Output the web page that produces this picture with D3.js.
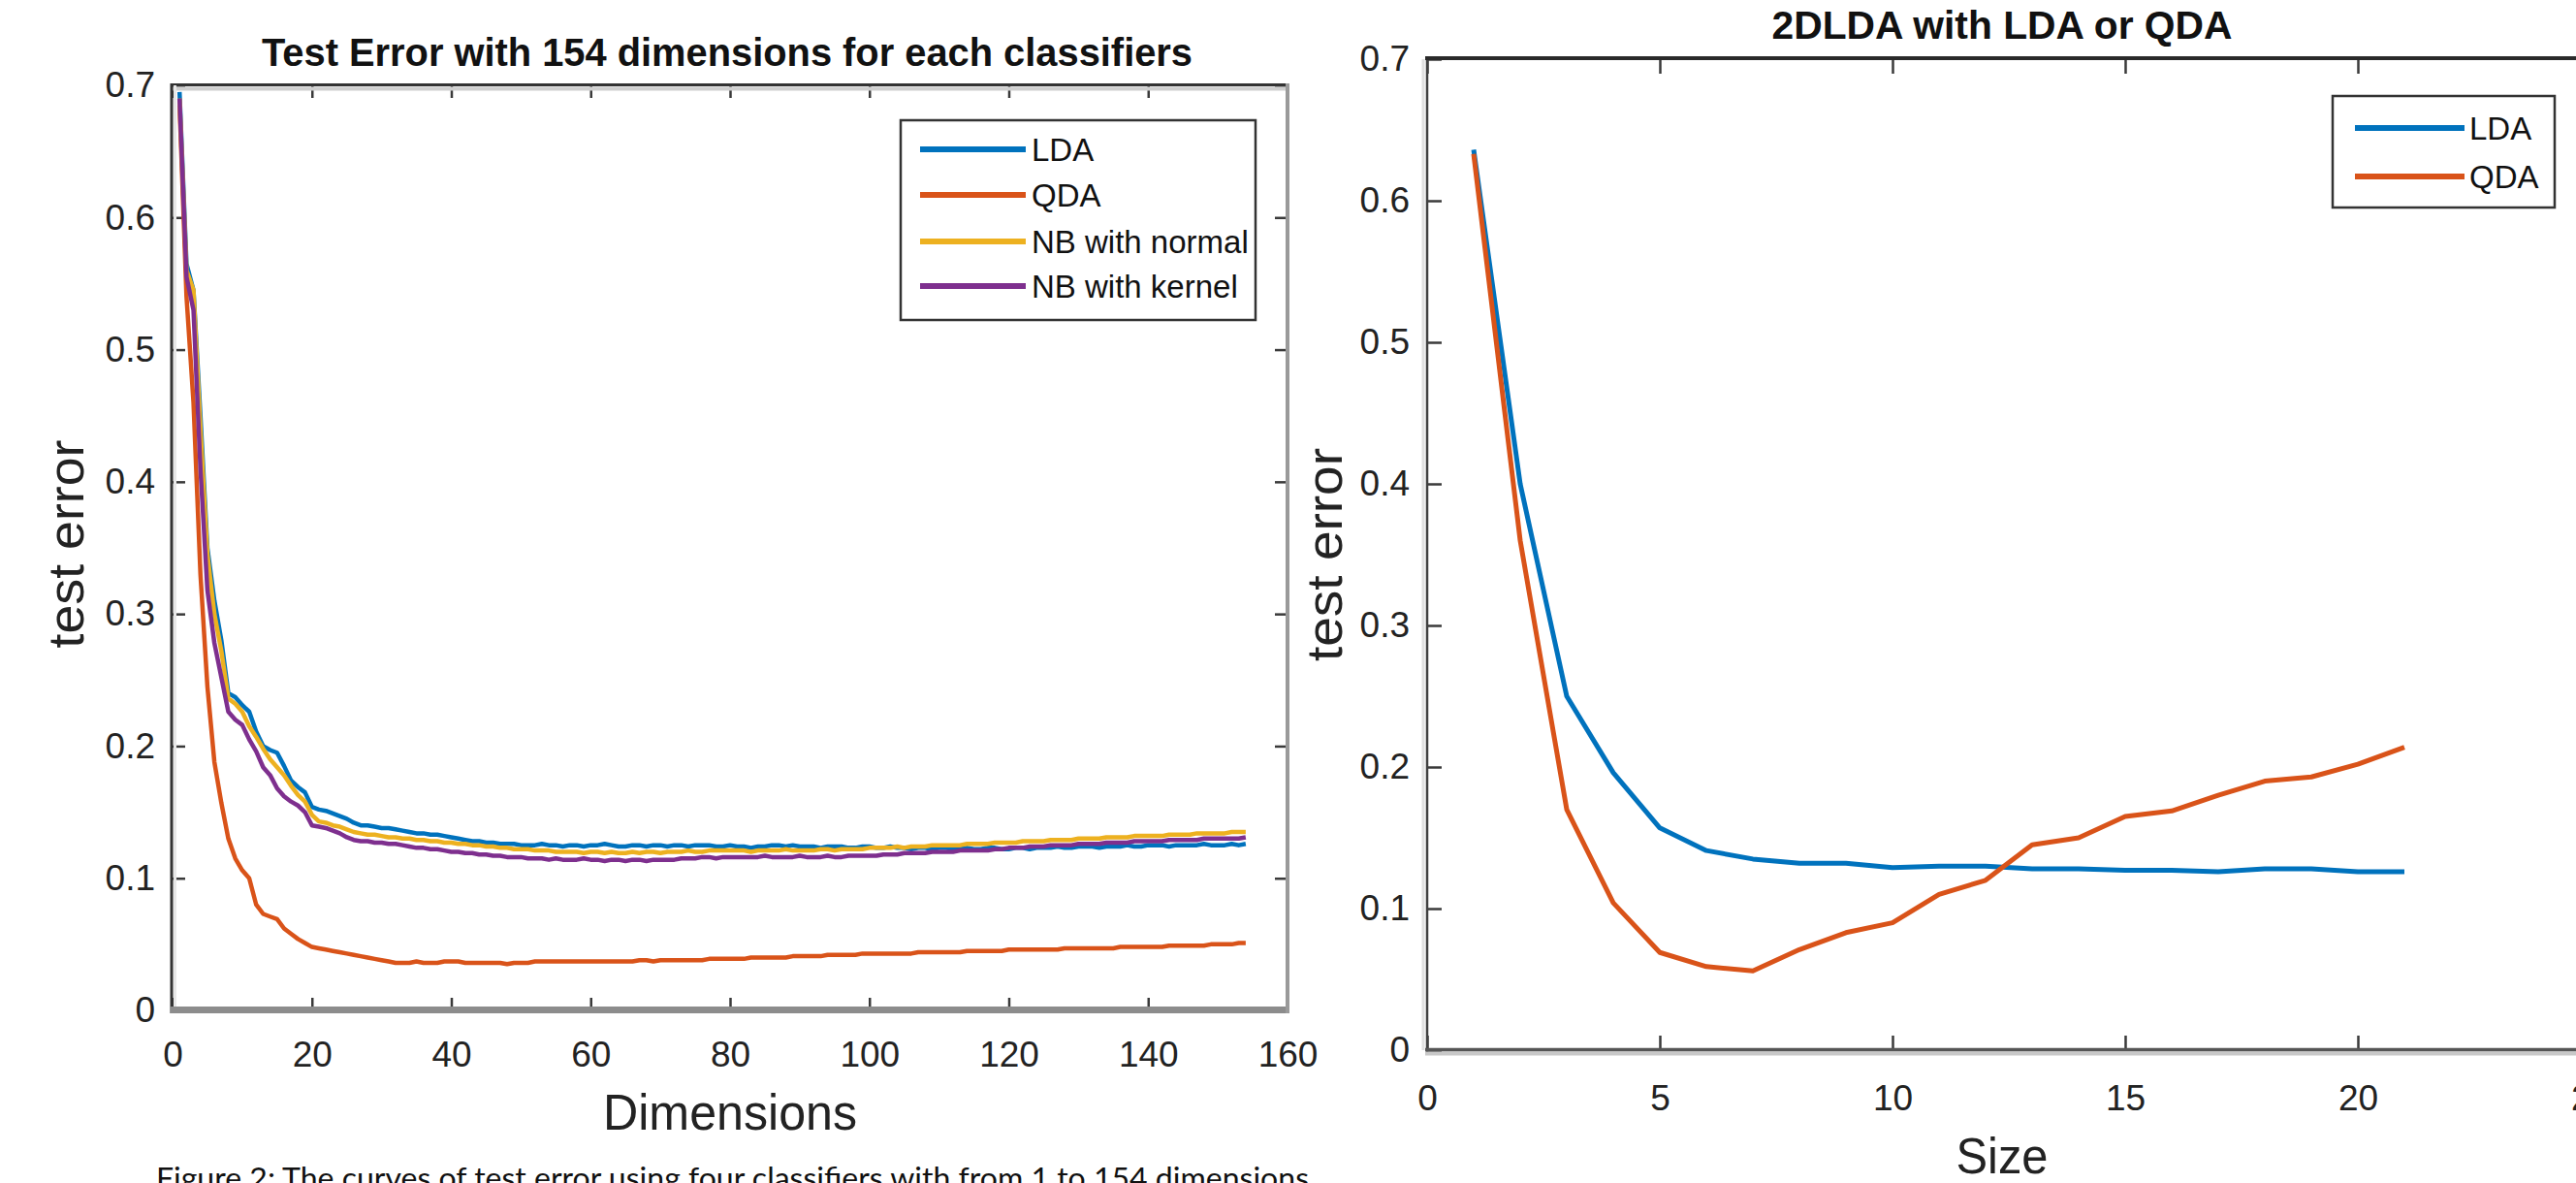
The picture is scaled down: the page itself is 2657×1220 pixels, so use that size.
<!DOCTYPE html>
<html><head><meta charset="utf-8">
<script src="https://cdn.jsdelivr.net/npm/d3@7"></script>
<style>html,body{margin:0;padding:0;background:#fff;overflow:hidden}</style>
</head><body>
<svg id="c" width="2657" height="1220"></svg>
<script>
// ---------- DATA ----------
const dims = d3.range(1, 155); // dimension index 1..154
const ldaErr = [
0.695,0.565,0.545,0.450,0.350,0.310,0.280,0.240,0.237,0.231,
0.226,0.211,0.200,0.197,0.195,0.185,0.174,0.169,0.165,0.154,
0.152,0.151,0.149,0.147,0.145,0.142,0.140,0.140,0.139,0.138,
0.138,0.137,0.136,0.135,0.134,0.134,0.133,0.133,0.132,0.131,
0.130,0.129,0.128,0.128,0.127,0.127,0.126,0.126,0.126,0.125,
0.125,0.125,0.126,0.125,0.125,0.124,0.125,0.125,0.124,0.125,
0.125,0.126,0.125,0.124,0.124,0.125,0.125,0.124,0.125,0.125,
0.124,0.125,0.125,0.124,0.125,0.125,0.125,0.124,0.124,0.125,
0.124,0.124,0.123,0.124,0.124,0.125,0.125,0.124,0.125,0.124,
0.124,0.124,0.123,0.124,0.124,0.124,0.123,0.123,0.124,0.124,
0.123,0.123,0.124,0.123,0.123,0.122,0.123,0.123,0.122,0.123,
0.123,0.122,0.122,0.123,0.122,0.122,0.123,0.123,0.122,0.122,
0.123,0.123,0.122,0.123,0.123,0.123,0.124,0.123,0.123,0.124,
0.124,0.124,0.123,0.124,0.124,0.124,0.125,0.124,0.124,0.125,
0.125,0.125,0.124,0.125,0.125,0.125,0.125,0.126,0.125,0.125,
0.125,0.126,0.125,0.126];
const qdaErr = [
0.685,0.540,0.460,0.330,0.245,0.188,0.157,0.130,0.115,0.106,
0.100,0.080,0.073,0.071,0.069,0.062,0.058,0.054,0.051,0.048,
0.047,0.046,0.045,0.044,0.043,0.042,0.041,0.040,0.039,0.038,
0.037,0.036,0.036,0.036,0.037,0.036,0.036,0.036,0.037,0.037,
0.037,0.036,0.036,0.036,0.036,0.036,0.036,0.035,0.036,0.036,
0.036,0.037,0.037,0.037,0.037,0.037,0.037,0.037,0.037,0.037,
0.037,0.037,0.037,0.037,0.037,0.037,0.038,0.038,0.037,0.038,
0.038,0.038,0.038,0.038,0.038,0.038,0.039,0.039,0.039,0.039,
0.039,0.039,0.040,0.040,0.040,0.040,0.040,0.040,0.041,0.041,
0.041,0.041,0.041,0.042,0.042,0.042,0.042,0.042,0.043,0.043,
0.043,0.043,0.043,0.043,0.043,0.043,0.044,0.044,0.044,0.044,
0.044,0.044,0.044,0.045,0.045,0.045,0.045,0.045,0.045,0.046,
0.046,0.046,0.046,0.046,0.046,0.046,0.046,0.047,0.047,0.047,
0.047,0.047,0.047,0.047,0.047,0.048,0.048,0.048,0.048,0.048,
0.048,0.048,0.049,0.049,0.049,0.049,0.049,0.049,0.050,0.050,
0.050,0.050,0.051,0.051];
const nbNormalErr = [
0.690,0.560,0.545,0.440,0.345,0.300,0.272,0.236,0.232,0.226,
0.215,0.207,0.198,0.190,0.184,0.178,0.170,0.163,0.158,0.148,
0.143,0.142,0.140,0.139,0.137,0.135,0.134,0.133,0.133,0.132,
0.131,0.131,0.130,0.130,0.129,0.129,0.128,0.128,0.127,0.127,
0.126,0.126,0.125,0.125,0.124,0.124,0.123,0.123,0.122,0.122,
0.122,0.121,0.121,0.121,0.120,0.120,0.120,0.120,0.119,0.120,
0.120,0.119,0.120,0.119,0.119,0.120,0.119,0.120,0.120,0.119,
0.120,0.120,0.120,0.121,0.120,0.120,0.121,0.121,0.121,0.121,
0.121,0.121,0.120,0.121,0.121,0.121,0.121,0.122,0.121,0.121,
0.121,0.121,0.122,0.122,0.121,0.122,0.122,0.122,0.122,0.123,
0.123,0.123,0.123,0.124,0.123,0.124,0.124,0.124,0.125,0.125,
0.125,0.125,0.125,0.126,0.126,0.126,0.126,0.127,0.127,0.127,
0.127,0.128,0.128,0.128,0.128,0.129,0.129,0.129,0.129,0.130,
0.130,0.130,0.130,0.131,0.131,0.131,0.131,0.132,0.132,0.132,
0.132,0.132,0.133,0.133,0.133,0.133,0.134,0.134,0.134,0.134,
0.134,0.135,0.135,0.135];
const nbKernelErr = [
0.690,0.555,0.530,0.410,0.318,0.278,0.252,0.226,0.220,0.216,
0.205,0.196,0.184,0.178,0.168,0.162,0.158,0.155,0.150,0.140,
0.139,0.138,0.136,0.134,0.131,0.129,0.128,0.128,0.127,0.127,
0.126,0.126,0.125,0.124,0.123,0.123,0.122,0.122,0.121,0.120,
0.120,0.119,0.119,0.118,0.118,0.117,0.117,0.116,0.116,0.116,
0.115,0.115,0.115,0.114,0.115,0.114,0.114,0.114,0.115,0.114,
0.114,0.113,0.114,0.114,0.113,0.114,0.114,0.113,0.114,0.114,
0.114,0.114,0.115,0.115,0.115,0.116,0.116,0.115,0.116,0.116,
0.116,0.116,0.116,0.116,0.117,0.116,0.116,0.116,0.116,0.117,
0.116,0.116,0.116,0.117,0.116,0.116,0.117,0.117,0.117,0.117,
0.117,0.118,0.118,0.118,0.119,0.119,0.119,0.119,0.120,0.120,
0.120,0.120,0.121,0.121,0.121,0.121,0.121,0.122,0.122,0.123,
0.123,0.123,0.124,0.124,0.124,0.125,0.125,0.125,0.125,0.126,
0.126,0.126,0.126,0.127,0.127,0.127,0.127,0.128,0.128,0.128,
0.128,0.128,0.129,0.129,0.129,0.129,0.129,0.130,0.130,0.130,
0.130,0.130,0.130,0.131];

const sizes = [1,2,3,4,5,6,7,8,9,10,11,12,13,14,15,16,17,18,19,20,21];
const lda2Err = [0.636,0.400,0.250,0.196,0.157,0.141,0.135,0.132,0.132,0.129,0.130,0.130,0.128,0.128,0.127,0.127,0.126,0.128,0.128,0.126,0.126];
const qda2Err = [0.633,0.360,0.170,0.104,0.069,0.059,0.056,0.071,0.083,0.090,0.110,0.120,0.145,0.150,0.165,0.169,0.180,0.190,0.193,0.202,0.214];

const leftXTicks = [0,20,40,60,80,100,120,140,160];
const rightXTicks = [0,5,10,15,20,25];
const yTicks = [0,0.1,0.2,0.3,0.4,0.5,0.6,0.7];
const leftSeries = ["LDA","QDA","NB with normal","NB with kernel"];
const rightSeries = ["LDA","QDA"];
const colors = {"LDA":"#0072BD","QDA":"#D95319","NB with normal":"#EDB120","NB with kernel":"#7E2F8E"};

// ---------- DRAW ----------
const svg = d3.select('#c');
svg.append('rect').attr('width',2657).attr('height',1220).attr('fill','#fff');
const FONT = "'Liberation Sans', Arial, Helvetica, sans-serif";

function txt(g, x, y, s, size, opt) {
  opt = opt || {};
  const t = g.append('text').attr('x', x).attr('y', y).text(s)
    .attr('font-family', opt.family || FONT).attr('font-size', size)
    .attr('font-weight', opt.weight || 'normal')
    .attr('fill', opt.fill || '#1a1a1a')
    .attr('text-anchor', opt.anchor || 'middle');
  if (opt.len) t.attr('textLength', opt.len).attr('lengthAdjust', 'spacingAndGlyphs');
  if (opt.rotate) t.attr('transform', `rotate(${opt.rotate},${x},${y})`);
  return t;
}

function panel(cfg) {
  const g = svg.append('g');
  const x = d3.scaleLinear().domain(cfg.xDomain).range([cfg.left, cfg.right]);
  const y = d3.scaleLinear().domain([0, 0.7]).range([cfg.bottom, cfg.top]);
  const fmtY = d => d === 0 ? '0' : d3.format('.1f')(d);
  const styleAxis = (sel, labels) => {
    sel.select('.domain').remove();
    sel.selectAll('.tick line').attr('stroke', '#3a3a3a').attr('stroke-width', 2.5);
    sel.selectAll('.tick text').attr('font-family', FONT).attr('font-size', 37).attr('fill', '#222');
    if (!labels) sel.selectAll('.tick text').remove();
  };
  g.append('g').attr('transform', `translate(0,${cfg.bottom})`)
    .call(d3.axisBottom(x).tickValues(cfg.xTicks).tickSize(-cfg.tick).tickPadding(cfg.xPad).tickFormat(d3.format('d')))
    .call(s => styleAxis(s, true));
  g.append('g').attr('transform', `translate(0,${cfg.top})`)
    .call(d3.axisTop(x).tickValues(cfg.xTicks).tickSize(-cfg.tick).tickFormat(''))
    .call(s => styleAxis(s, false));
  g.append('g').attr('transform', `translate(${cfg.left},0)`)
    .call(d3.axisLeft(y).tickValues(yTicks).tickSize(-cfg.tick).tickPadding(cfg.yPad).tickFormat(fmtY))
    .call(s => styleAxis(s, true));
  g.append('g').attr('transform', `translate(${cfg.right},0)`)
    .call(d3.axisRight(y).tickValues(yTicks).tickSize(-cfg.tick).tickFormat(''))
    .call(s => styleAxis(s, false));
  // box lines
  cfg.box.forEach(b => {
    g.append('line').attr('x1', b[0]).attr('y1', b[1]).attr('x2', b[2]).attr('y2', b[3])
      .attr('stroke', b[4]).attr('stroke-width', b[5]);
  });
  // series
  const line = d3.line().x(d => x(d[0])).y(d => y(d[1]));
  cfg.series.forEach(s => {
    g.append('path').datum(s.xs.map((v, i) => [v, s.ys[i]]))
      .attr('d', line).attr('fill', 'none').attr('stroke', colors[s.name])
      .attr('stroke-width', cfg.lw).attr('stroke-linejoin', 'round');
  });
  return {g, x, y};
}

// Left panel
const L = panel({
  left: 178, right: 1328, top: 88, bottom: 1042, xDomain: [0, 160], xTicks: leftXTicks,
  tick: 13, xPad: 32, yPad: 18, lw: 4.5,
  box: [
    [176, 91.5, 1330, 91.5, '#cfcfcf', 4],
    [176, 87.5, 1330, 87.5, '#333', 3],
    [180.5, 88, 180.5, 1040, '#e8e8e8', 3],
    [177, 86, 177, 1045, '#333', 3],
    [176, 1041.5, 1330, 1041.5, '#8c8c8c', 7],
    [1328, 86, 1328, 1045, '#9a9a9a', 4]
  ],
  series: [
    {name: 'LDA', xs: dims, ys: ldaErr},
    {name: 'QDA', xs: dims, ys: qdaErr},
    {name: 'NB with normal', xs: dims, ys: nbNormalErr},
    {name: 'NB with kernel', xs: dims, ys: nbKernelErr}
  ]
});

// Right panel
const R = panel({
  left: 1472, right: 2672, top: 61, bottom: 1083, xDomain: [0, 25], xTicks: rightXTicks,
  tick: 15, xPad: 36, yPad: 18, lw: 5,
  box: [
    [1468, 61, 1468, 1083, '#e0e0e0', 3],
    [1472, 59, 1472, 1085, '#404040', 2.5],
    [1470, 60, 2672, 60, '#2a2a2a', 4],
    [1470, 1086.5, 2672, 1086.5, '#c8c8c8', 4],
    [1470, 1082.5, 2672, 1082.5, '#555', 3.5]
  ],
  series: [
    {name: 'LDA', xs: sizes, ys: lda2Err},
    {name: 'QDA', xs: sizes, ys: qda2Err}
  ]
});

// Titles and axis labels
txt(svg, 750, 68, 'Test Error with 154 dimensions for each classifiers', 40, {weight: 'bold', len: 960, fill: '#111'});
txt(svg, 2065, 40, '2DLDA with LDA or QDA', 40, {weight: 'bold', len: 475, fill: '#111'});
txt(svg, 753, 1165, 'Dimensions', 52, {len: 262, fill: '#222'});
txt(svg, 2065, 1210, 'Size', 52, {len: 95, fill: '#222'});
txt(svg, 86, 561, 'test error', 52, {len: 215, rotate: -90, fill: '#222'});
txt(svg, 1384, 572, 'test error', 52, {len: 220, rotate: -90, fill: '#222'});

// Legends
function legend(box, items, rowY, lineX0, lineX1, textX) {
  const g = svg.append('g');
  g.append('rect').attr('x', box[0]).attr('y', box[1]).attr('width', box[2] - box[0]).attr('height', box[3] - box[1])
    .attr('fill', '#fff').attr('stroke', '#333').attr('stroke-width', 2.5);
  items.forEach((name, i) => {
    const yy = rowY[i];
    g.append('line').attr('x1', lineX0).attr('x2', lineX1).attr('y1', yy).attr('y2', yy)
      .attr('stroke', colors[name]).attr('stroke-width', 6);
    txt(g, textX, yy + 12, name, 33, {anchor: 'start', fill: '#111'});
  });
}
legend([929, 124, 1295, 330], leftSeries, [154, 201, 249, 295], 949, 1058, 1064);
legend([2406, 99, 2635, 214], rightSeries, [132, 182], 2429, 2542, 2547);

// Caption (cut off at the bottom edge)
txt(svg, 161, 1226, 'Figure 2: The curves of test error using four classifiers with from 1 to 154 dimensions', 30,
  {anchor: 'start', family: "Lato, 'Open Sans', sans-serif", len: 1189, fill: '#111'});
</script>
</body></html>
